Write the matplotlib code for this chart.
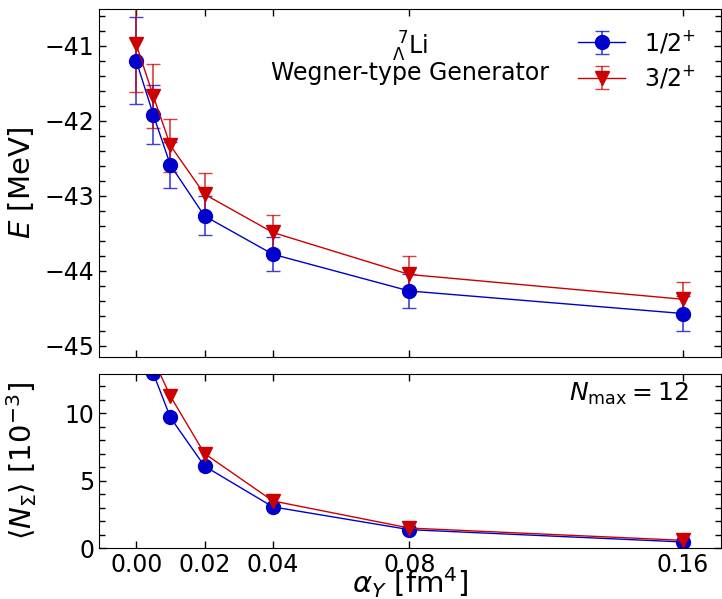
import matplotlib
matplotlib.use("Agg")
import matplotlib.pyplot as plt
from matplotlib.ticker import MultipleLocator

# coupling parameter alpha_Y [fm^4]
alpha = [0.0, 0.005, 0.01, 0.02, 0.04, 0.08, 0.16]

# energies [MeV] and uncertainties
e_half = [-41.20, -41.92, -42.59, -43.27, -43.78, -44.27, -44.57]
e_half_err = [0.58, 0.39, 0.31, 0.26, 0.23, 0.23, 0.23]
e_three = [-40.98, -41.67, -42.33, -42.98, -43.49, -44.05, -44.38]
e_three_err = [0.64, 0.43, 0.35, 0.28, 0.23, 0.24, 0.23]

# sigma admixture <N_Sigma> [10^-3]
n_half = [19.0, 12.95, 9.68, 6.07, 3.05, 1.36, 0.45]
n_three = [21.0, 14.0, 11.26, 7.00, 3.49, 1.48, 0.57]

xticks = [0.0, 0.02, 0.04, 0.08, 0.16]
xticklabels = ["0.00", "0.02", "0.04", "0.08", "0.16"]

BLUE = "#0000cc"
RED = "#cc0000"
BLUE_ERR = (0.0, 0.0, 0.8, 0.75)
RED_ERR = (0.8, 0.0, 0.0, 0.75)

fig = plt.figure(figsize=(7.22, 5.99), dpi=100)
ax1 = fig.add_axes([0.1371, 0.404, 0.8615, 0.581])
ax2 = fig.add_axes([0.1371, 0.0851, 0.8615, 0.2905], sharex=ax1)

ax1.errorbar(alpha, e_half, yerr=e_half_err, color=BLUE, ecolor=BLUE_ERR,
             marker="o", ms=10, lw=1.0, elinewidth=1.2, capsize=5,
             label="1/2$^{+}$")
ax1.errorbar(alpha, e_three, yerr=e_three_err, color=RED, ecolor=RED_ERR,
             marker="v", ms=10, lw=1.0, elinewidth=1.2, capsize=5,
             label="3/2$^{+}$")

ax2.plot(alpha, n_half, color=BLUE, marker="o", ms=10, lw=1.0)
ax2.plot(alpha, n_three, color=RED, marker="v", ms=10, lw=1.0)

ax1.set_xlim(-0.0109, 0.1712)
ax1.set_ylim(-45.15, -40.51)
ax2.set_ylim(0, 12.9)

ax1.yaxis.set_major_locator(MultipleLocator(1))
ax1.yaxis.set_minor_locator(MultipleLocator(0.2))
ax2.yaxis.set_major_locator(MultipleLocator(5))
ax2.yaxis.set_minor_locator(MultipleLocator(1))
ax2.set_xticks(xticks)
ax2.set_xticklabels(xticklabels)

for ax in (ax1, ax2):
    ax.tick_params(which="both", direction="in", top=True, right=True,
                   labelsize=17, width=1)
    ax.tick_params(which="major", length=5)
    ax.tick_params(which="minor", length=4)
ax1.tick_params(labelbottom=False)

ax1.set_ylabel("$E$ [MeV]", fontsize=21)
ax2.set_ylabel(r"$\langle N_{\Sigma}\rangle$ [10$^{-3}$]", fontsize=21)
ax2.set_xlabel(r"$\alpha_Y$ [fm$^4$]", fontsize=21, labelpad=-8)
ax1.yaxis.set_label_coords(-0.101, 0.5)
ax2.yaxis.set_label_coords(-0.097, 0.5)

ax1.text(0.5, 0.87, r"$^{\ 7}_{\Lambda}$Li", transform=ax1.transAxes,
         ha="center", va="baseline", fontsize=17)
ax1.text(0.5, 0.795, "Wegner-type Generator", transform=ax1.transAxes,
         ha="center", va="baseline", fontsize=17)
ax2.text(0.948, 0.845, r"$N_{\mathrm{max}} = 12$", transform=ax2.transAxes,
         ha="right", va="baseline", fontsize=18)

ax1.legend(loc="upper right", bbox_to_anchor=(0.99, 0.998), fontsize=17,
           frameon=False, handlelength=2.0, borderaxespad=0.4,
           labelspacing=0.35, handletextpad=0.8)

fig.savefig("out.png", dpi=100)
